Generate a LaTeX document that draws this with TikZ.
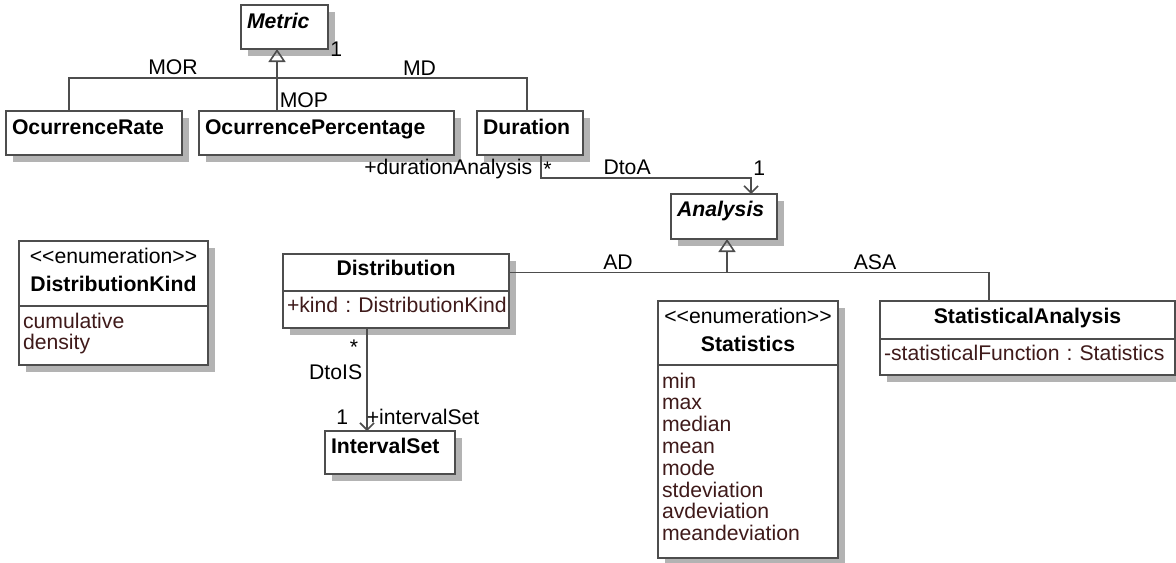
\documentclass[tikz,border=0pt]{standalone}
\usepackage{fontspec}
\setmainfont{Liberation Sans}
\usetikzlibrary{positioning,shadows,arrows.meta}
\definecolor{umlline}{HTML}{4D4D4D}
\definecolor{umlattr}{HTML}{3F1A1A}
\definecolor{umlshade}{HTML}{B3B3B3}
\frenchspacing

\begin{document}
\begin{tikzpicture}[x=0.5pt,y=-0.5pt,font=\fontsize{10.6}{12.7}\selectfont,
cls/.style n args={3}{draw=umlline,line width=1pt,fill=white,anchor=north west,outer sep=0pt,inner xsep=3pt,inner ysep=0pt,align=left,text width=#1,text height=#2,text depth=#3,font=\fontsize{10.6}{14}\selectfont\bfseries,drop shadow={shadow xshift=3.5pt,shadow yshift=-3.5pt,fill=umlshade,opacity=1}},
attr/.style={text=umlattr,font=\fontsize{10.6}{10.9}\selectfont,inner xsep=2pt},
link/.style={draw=umlline,line width=0.8pt},
lbl/.style={inner sep=1pt,font=\fontsize{10.6}{12.7}\selectfont},
gen/.style={-{Triangle[open,length=6.5pt,width=8.5pt]}},
nav/.style={-{Straight Barb[length=3.5pt,width=7pt]}}]
\useasboundingbox (0,0) rectangle (1176,562);
% metrics
\node[cls={37.5pt}{11.5pt}{10.5pt}] (metric) at (241,5) {\textit{Metric}};
\node[cls={82pt}{11.5pt}{10.5pt}] (ocrate) at (6,111) {OcurrenceRate};
\node[cls={121.5pt}{11.5pt}{10.5pt}] (ocperc) at (199,111) {OcurrencePercentage};
\node[cls={47pt}{11.5pt}{10.5pt}] (duration) at (477,111) {Duration};
% analysis
\node[cls={47pt}{11pt}{11.5pt}] (analysis) at (671,194) {\textit{Analysis}};
\node[cls={107pt}{10.5pt}{8pt},align=center] (dist) at (283,254) {Distribution};
\node[cls={109pt}{10.5pt}{8pt},attr,below=0pt of dist] (dist-attr) {\mbox{+kind : DistributionKind}};
\node[cls={59pt}{11pt}{10.5pt}] (iset) at (325,431) {IntervalSet};
\node[cls={141.5pt}{11pt}{8pt},align=center] (statan) at (880,301) {StatisticalAnalysis};
\node[cls={143.5pt}{10.5pt}{7.5pt},attr,below=0pt of statan] (statan-attr) {\mbox{-statisticalFunction : Statistics}};
% enumerations
\node[cls={88.5pt}{11pt}{21.5pt},align=center] (distkind) at (19,241) {\textmd{<{}<enumeration>{}>}\\DistributionKind};
\node[cls={90.5pt}{11pt}{18.5pt},attr,below=0pt of distkind] (distkind-lit) {cumulative\\density};
\node[cls={84pt}{11pt}{21pt},align=center] (stats) at (658,301) {\textmd{<{}<enumeration>{}>}\\Statistics};
\node[cls={86pt}{11.5pt}{85pt},attr,below=0pt of stats] (stats-lit) {min\\max\\median\\mean\\mode\\stdeviation\\avdeviation\\meandeviation};

% generalisations
\coordinate (mor) at (69,78);
\coordinate (mjoin) at (277,78);
\coordinate (md) at (527,78);
\draw[link] (mor |- ocrate.north) -- (mor) -- node[lbl,above] (mor-lbl) {MOR} (mjoin)
   -- node[lbl,above,pos=0.57] (md-lbl) {MD} (md) -- (md |- duration.north);
\draw[link,gen] (mjoin |- ocperc.north) -- node[lbl,right,pos=0.18] (mop-lbl) {MOP} (mjoin |- metric.south);
\node[lbl,anchor=west] (metric-one) at (metric.south east) {1};
\coordinate (ajoin) at (727,0);
\coordinate (asa) at (989,0);
\draw[link] (dist.east) -- node[lbl,above] (ad-lbl) {AD} (dist.east -| ajoin)
   -- node[lbl,above,pos=0.565] (asa-lbl) {ASA} (dist.east -| asa) -- (asa |- statan.north);
\draw[link,gen] (dist.east -| ajoin) -- (ajoin |- analysis.south);

% associations
\coordinate (dtoa-a) at (541,178);
\coordinate (dtoa-b) at (751,178);
\draw[link,nav] (dtoa-a |- duration.south) -- node[lbl,left=3pt,pos=0.6] (dtoa-role) {+durationAnalysis} (dtoa-a)
   -- node[lbl,above,pos=0.41] (dtoa-lbl) {DtoA} (dtoa-b) -- (dtoa-b |- analysis.north);
\node[lbl,anchor=north west,yshift=-2.5pt] (dtoa-star) at (dtoa-a |- duration.south) {*};
\node[lbl,anchor=south west] (dtoa-one) at (dtoa-b) {1};
\coordinate (dtois) at (367,0);
\draw[link,nav] (dtois |- dist-attr.south) -- node[lbl,left=3pt,pos=0.19] (dtois-star) {*}
   node[lbl,left=1pt,pos=0.43] (dtois-lbl) {DtoIS}
   node[lbl,pos=1,anchor=south east,xshift=-8pt,yshift=1.75pt] (dtois-one) {1}
   node[lbl,pos=1,anchor=south west,xshift=-1.5pt,yshift=1.75pt] (dtois-role) {+intervalSet} (dtois |- iset.north);
\end{tikzpicture}
\end{document}
